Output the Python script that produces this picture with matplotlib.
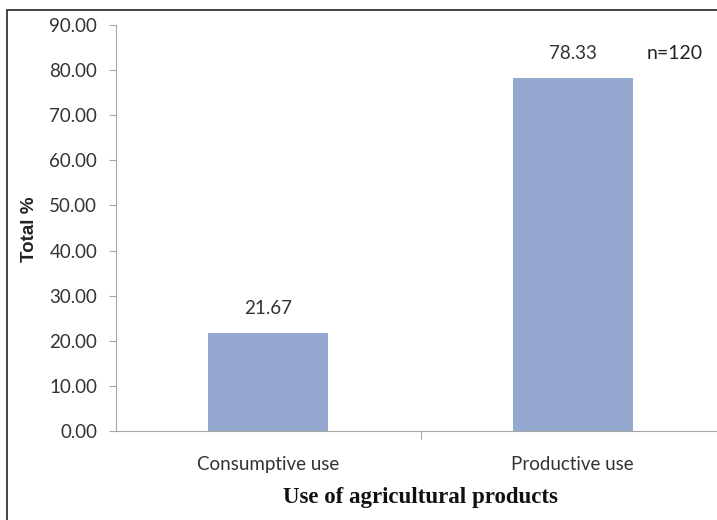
import matplotlib.pyplot as plt
from matplotlib.patches import Rectangle

# datos del grafico
categorias = ["Consumptive use", "Productive use"]
porcentajes = [21.67, 78.33]
etiquetas_y = [0, 10, 20, 30, 40, 50, 60, 70, 80, 90]

W, H = 717, 520
fig = plt.figure(figsize=(W / 100, H / 100), dpi=100)

# marco exterior
fig.patches.append(Rectangle((7 / W, -0.1), 1.2, (510 / H) + 0.1, transform=fig.transFigure,
                             fill=False, edgecolor="#222222", linewidth=1.2))

ax = fig.add_axes([116 / W, (H - 431) / H, (725 - 116) / W, (431 - 25) / H])
x = range(len(categorias))
ax.bar(x, porcentajes, width=0.395, color="#94a8d0")

ax.set_xlim(-0.5, 1.5)
ax.set_ylim(0, 90)
ax.set_yticks(etiquetas_y)
ax.set_yticklabels([f"{v:.2f}" for v in etiquetas_y], fontsize=13.5, family="Lato", color="#333333")
ax.set_xticks([0.5], minor=False)
ax.set_xticklabels([""])
ax.tick_params(axis="y", length=5, color="#a6a6a6", pad=8.5)
ax.tick_params(axis="x", length=6, color="#a6a6a6")

# etiquetas de categorias
for i, c in enumerate(categorias):
    ax.text(i, -7.5, c, ha="center", va="center", fontsize=13.5, family="Lato", color="#333333")

# valores sobre las barras
for i, v in enumerate(porcentajes):
    ax.text(i, v + 5.4, f"{v:.2f}", ha="center", va="center", fontsize=13.5, family="Lato", color="#333333")

ax.text(1.336, 83.6, "n=120", ha="center", va="center", fontsize=14, family="Lato", color="#222222")

for lado in ["top", "right"]:
    ax.spines[lado].set_visible(False)
ax.spines["left"].set_color("#a6a6a6")
ax.spines["bottom"].set_color("#a6a6a6")

fig.text(30 / W, 1 - 229 / H, "Total %", rotation=90, ha="center", va="center",
         fontsize=13.5, fontweight="bold", family="Liberation Sans", color="#222222")
fig.text(420 / W, 1 - 497 / H, "Use of agricultural products", ha="center", va="center",
         fontsize=16.5, fontweight="bold", family="Liberation Serif", color="#111111")

fig.savefig("out.png", dpi=100)
